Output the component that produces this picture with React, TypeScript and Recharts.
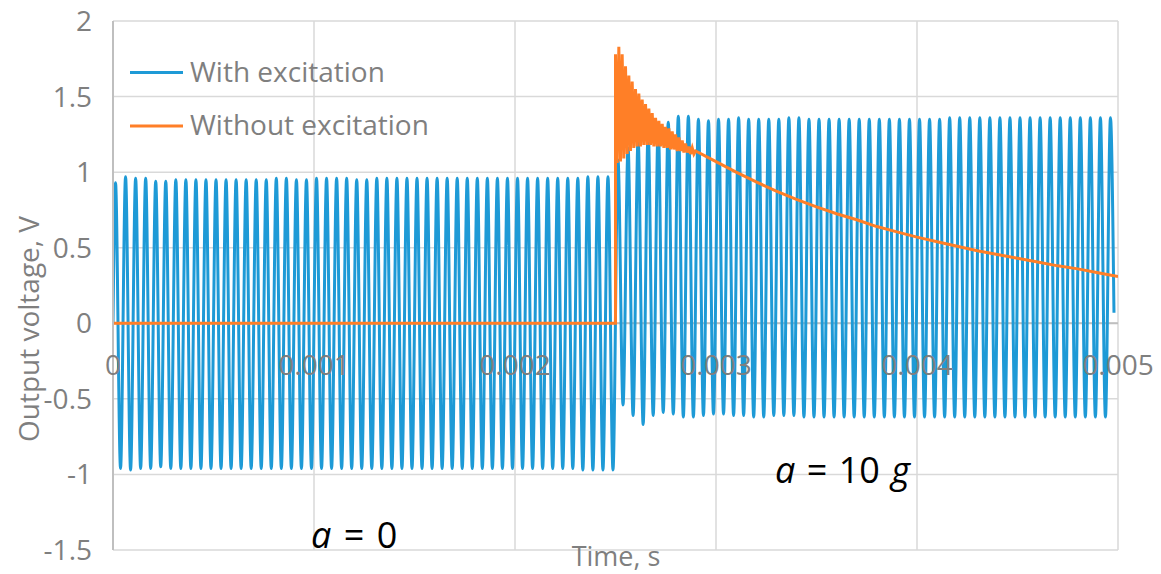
import { LineChart, Line, CartesianGrid, XAxis, YAxis, ReferenceLine } from 'recharts';

// drive period read from the spacing of the blue cycles (~10 px each)
const period = 0.00005;

// blue ("With excitation") extremes, one value per cycle
const bluePeaksBefore = [
    0.93, 0.97, 0.96, 0.96, 0.94, 0.94, 0.95, 0.95, 0.95, 0.95,
    0.95, 0.95, 0.95, 0.95, 0.95, 0.95, 0.96, 0.96, 0.95, 0.95,
    0.96, 0.96, 0.96, 0.96, 0.95, 0.95, 0.96, 0.96, 0.96, 0.96,
    0.96, 0.96, 0.96, 0.96, 0.96, 0.96, 0.96, 0.96, 0.96, 0.96,
    0.96, 0.96, 0.96, 0.96, 0.96, 0.96, 0.96, 0.97, 0.97, 0.97,
];
const blueTroughsBefore = [
    -0.96, -0.97, -0.96, -0.96, -0.95, -0.96, -0.96, -0.96, -0.96, -0.96,
    -0.96, -0.96, -0.96, -0.96, -0.96, -0.96, -0.96, -0.96, -0.96, -0.96,
    -0.96, -0.96, -0.96, -0.96, -0.96, -0.96, -0.96, -0.96, -0.96, -0.96,
    -0.96, -0.96, -0.96, -0.96, -0.96, -0.96, -0.96, -0.96, -0.96, -0.96,
    -0.96, -0.96, -0.96, -0.96, -0.96, -0.96, -0.97, -0.97, -0.97, -0.97,
];
const bluePeaksAfter = [
    1.08, 1.16, 1.22, 1.27, 1.30, 1.33, 1.37, 1.37, 1.35, 1.34,
    1.35, 1.35, 1.36, 1.35, 1.35, 1.35, 1.35, 1.36, 1.36, 1.35,
    1.35, 1.35, 1.35, 1.35, 1.35, 1.35, 1.35, 1.35, 1.35, 1.35,
    1.35, 1.35, 1.35, 1.36, 1.36, 1.36, 1.36, 1.36, 1.36, 1.36,
    1.36, 1.36, 1.36, 1.36, 1.36, 1.36, 1.36, 1.36, 1.36, 1.36,
];
// the last cycle is cut before its trough
const blueTroughsAfter = [
    -0.54, -0.61, -0.67, -0.61, -0.59, -0.60, -0.62, -0.62, -0.61, -0.60,
    -0.60, -0.61, -0.61, -0.62, -0.62, -0.61, -0.61, -0.61, -0.62, -0.62,
    -0.62, -0.62, -0.62, -0.62, -0.62, -0.62, -0.62, -0.62, -0.62, -0.62,
    -0.62, -0.62, -0.62, -0.62, -0.62, -0.62, -0.62, -0.62, -0.62, -0.62,
    -0.62, -0.62, -0.62, -0.62, -0.62, -0.62, -0.62, -0.62, -0.62,
];
const blueEnd = { t: 0.00498, v: 0.07 };

// orange ("Without excitation"): step at 2.5 ms, ringing, then slow decay
const stepTime = 0.0025;
const ringStep = 0.0000083;
const ringHigh = [
    1.78, 1.83, 1.78, 1.70, 1.64, 1.60, 1.55, 1.52, 1.48, 1.45,
    1.42, 1.39, 1.36, 1.34, 1.32, 1.30, 1.29, 1.27, 1.25, 1.23,
    1.21, 1.19, 1.17, 1.16, 1.14,
];
const ringLow = [
    1.06, 1.07, 1.09, 1.12, 1.14, 1.16, 1.17, 1.17, 1.18, 1.18,
    1.18, 1.17, 1.17, 1.17, 1.16, 1.16, 1.15, 1.15, 1.14, 1.14,
    1.13, 1.13, 1.12, 1.12,
];
const decayTimes = [
    0.0030, 0.0031, 0.0032, 0.0033, 0.0034, 0.0035, 0.0036, 0.0037, 0.0038, 0.0039, 0.0040,
    0.0041, 0.0042, 0.0043, 0.0044, 0.0045, 0.0046, 0.0047, 0.0048, 0.0049, 0.0050,
];
const decayValues = [
    1.07, 1.00, 0.935, 0.875, 0.82, 0.77, 0.725, 0.685, 0.64, 0.605, 0.57,
    0.54, 0.51, 0.48, 0.455, 0.43, 0.405, 0.38, 0.36, 0.335, 0.31,
];

const xTicks = [0, 0.001, 0.002, 0.003, 0.004, 0.005];
const yTicks = [-1.5, -1, -0.5, 0, 0.5, 1, 1.5, 2];

const blueData = [{ t: 0, v: 0 }];
const peaks = [...bluePeaksBefore, ...bluePeaksAfter];
const troughs = [...blueTroughsBefore, ...blueTroughsAfter];
peaks.forEach((p, k) => {
    blueData.push({ t: (k + 0.25) * period, v: p });
    if (k < troughs.length) blueData.push({ t: (k + 0.75) * period, v: troughs[k] });
});
blueData.push(blueEnd);

const orangeData = [{ t: 0, v: 0 }, { t: stepTime, v: 0 }];
ringHigh.forEach((h, i) => {
    orangeData.push({ t: stepTime + 2 * i * ringStep, v: h });
    if (i < ringLow.length) orangeData.push({ t: stepTime + (2 * i + 1) * ringStep, v: ringLow[i] });
});
decayTimes.forEach((t, i) => orangeData.push({ t, v: decayValues[i] }));

const W = 1161;
const H = 574;
const plotTop = 21;
const plotBottom = 550;
const zeroY = plotTop + (plotBottom - plotTop) * (2 / 3.5);
const gray = "#7f7f7f";
const font = "'Open Sans', sans-serif";

const XTick = ({ x, payload }) => (
    <text x={x} y={zeroY + 52} textAnchor="middle" fill={gray} fontSize={28} fontFamily={font}>
        {String(payload.value)}
    </text>
);

export default function App() {
    return (
        <div style={{ position: 'absolute', left: 0, top: 0, width: W, height: H }}>
            <LineChart width={W} height={H} margin={{ top: plotTop, right: 43, bottom: 0, left: 0 }} style={{ fontFamily: font }}>
                <CartesianGrid stroke="#d9d9d9" strokeWidth={1.5} />
                <XAxis dataKey="t" type="number" domain={[0, 0.005]} ticks={xTicks} height={24}
                    axisLine={false} tickLine={false} tick={<XTick />} allowDataOverflow />
                <YAxis type="number" domain={[-1.5, 2]} ticks={yTicks} width={113}
                    axisLine={{ stroke: "#bfbfbf", strokeWidth: 2 }} tickLine={false} tickSize={0} tickMargin={21}
                    tick={{ fill: gray, fontSize: 28 }} tickFormatter={v => String(v)} />
                <ReferenceLine y={0} stroke="#bfbfbf" strokeWidth={2} />
                <Line data={blueData} dataKey="v" type="monotone" dot={false} stroke="#1E9AD6" strokeWidth={3} isAnimationActive={false} />
                <Line data={orangeData} dataKey="v" type="linear" dot={false} stroke="#FF7F27" strokeWidth={3} isAnimationActive={false} />
            </LineChart>
            <svg width={W} height={H} style={{ position: 'absolute', left: 0, top: 0, pointerEvents: 'none' }} fontFamily={font}>
                <line x1={130} x2={183} y1={72.5} y2={72.5} stroke="#1E9AD6" strokeWidth={3} />
                <text x={190} y={82} fontSize={28} fill={gray}>With excitation</text>
                <line x1={130} x2={183} y1={126} y2={126} stroke="#FF7F27" strokeWidth={3} />
                <text x={190} y={135} fontSize={28} fill={gray}>Without excitation</text>
                <text x={616} y={566} fontSize={27} fill={gray} textAnchor="middle">Time, s</text>
                <text x={28} y={329} fontSize={28} fill={gray} textAnchor="middle" dominantBaseline="central"
                    transform="rotate(-90 28 329)">Output voltage, V</text>
                <text x={775} y={483} fontSize={36} fill="#000" wordSpacing={2}>
                    <tspan fontStyle="italic">a</tspan> = 10 <tspan fontStyle="italic">g</tspan>
                </text>
                <text x={311} y={548} fontSize={36} fill="#000" wordSpacing={3}>
                    <tspan fontStyle="italic">a</tspan> = 0
                </text>
            </svg>
        </div>
    );
}
